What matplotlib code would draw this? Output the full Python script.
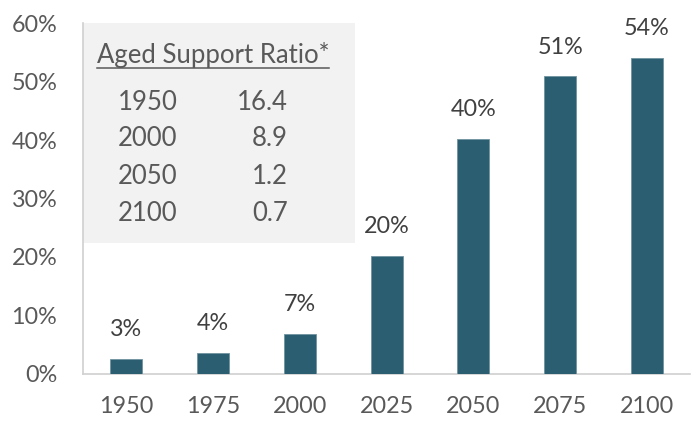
import matplotlib
matplotlib.use("Agg")
import matplotlib.pyplot as plt
from matplotlib.patches import Rectangle
from matplotlib.lines import Line2D

# Share of population aged 65+ (bar heights, %)
years = ["1950", "1975", "2000", "2025", "2050", "2075", "2100"]
share = [2.6, 3.6, 6.9, 20.2, 40.2, 50.9, 54.1]
share_labels = ["3%", "4%", "7%", "20%", "40%", "51%", "54%"]

# Aged support ratio inset table
ratio_years = ["1950", "2000", "2050", "2100"]
ratio_values = ["16.4", "8.9", "1.2", "0.7"]
yticks = [0, 10, 20, 30, 40, 50, 60]

bar_color = "#2B5E70"
text_gray = "#595959"
label_gray = "#404040"
plt.rcParams["font.family"] = ["Lato", "DejaVu Sans"]

fig = plt.figure(figsize=(6.91, 4.21), dpi=100)
ax = fig.add_axes([0.120, 0.112, 0.879, 0.833])

x = list(range(len(years)))
ax.bar(x, share, width=0.37, color=bar_color, edgecolor="#6F93A0", linewidth=0.6, zorder=3)

for xi, v, lab in zip(x, share, share_labels):
    ax.annotate(lab, (xi, v), xytext=(0, 21), textcoords="offset points",
                ha="center", va="center", fontsize=16.8, color=label_gray)

ax.set_xlim(-0.5, len(years) - 0.5)
ax.set_ylim(0, 60)
ax.set_xticks(x)
ax.set_xticklabels(years)
ax.set_yticks(yticks)
ax.set_yticklabels([f"{t}%" for t in yticks])
ax.tick_params(length=0, labelsize=16.8, labelcolor=text_gray)
ax.tick_params(axis="x", pad=16)
ax.tick_params(axis="y", pad=18.5)

for side in ["top", "right"]:
    ax.spines[side].set_visible(False)
for side in ["left", "bottom"]:
    ax.spines[side].set_color("#D0D0D0")
    ax.spines[side].set_linewidth(1.2)

# gray inset box
ax.add_patch(Rectangle((-0.5, 22.4), 3.14, 37.6, facecolor="#F2F2F2",
                       edgecolor="none", zorder=1))

title = ax.text(-0.34, 54.6, "Aged Support Ratio*", fontsize=18.5, color=text_gray,
                ha="left", va="center", zorder=4)
row_y = [46.5, 40.3, 33.7, 27.5]
for yr, val, yy in zip(ratio_years, ratio_values, row_y):
    ax.text(-0.10, yy, yr, fontsize=18.5, color=text_gray, ha="left", va="center", zorder=4)
    ax.text(1.86, yy, val, fontsize=18.5, color=text_gray, ha="right", va="center", zorder=4)

# underline the inset title
fig.canvas.draw()
bb = title.get_window_extent().transformed(ax.transData.inverted())
ax.add_line(Line2D([bb.x0, bb.x1], [52.3, 52.3], color=text_gray, linewidth=1.1, zorder=4))

fig.savefig("out.png", dpi=100)
